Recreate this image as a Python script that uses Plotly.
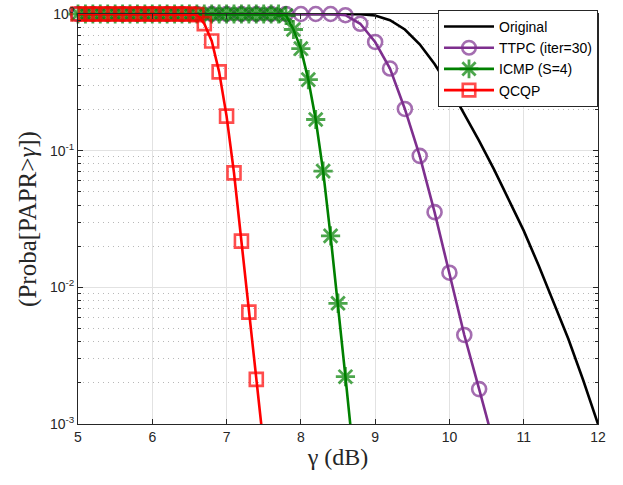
import plotly.graph_objects as go

# SNR threshold sweeps (dB)
gamma_qcqp = [5.0, 5.1, 5.2, 5.3, 5.4, 5.5, 5.6, 5.7, 5.8, 5.9, 6.0, 6.1, 6.2,
              6.3, 6.4, 6.5, 6.6, 6.7, 6.8, 6.9, 7.0, 7.1, 7.2, 7.3, 7.4, 7.5]
gamma_icmp = [5.0, 5.1, 5.2, 5.3, 5.4, 5.5, 5.6, 5.7, 5.8, 5.9, 6.0, 6.1, 6.2,
              6.3, 6.4, 6.5, 6.6, 6.7, 6.8, 6.9, 7.0, 7.1, 7.2, 7.3, 7.4, 7.5,
              7.6, 7.7, 7.8, 7.9, 8.0, 8.1, 8.2, 8.3, 8.4, 8.5, 8.6, 8.7]
gamma_ttpc = [5.0, 5.2, 5.4, 5.6, 5.8, 6.0, 6.2, 6.4, 6.6, 6.8, 7.0, 7.2, 7.4,
              7.6, 7.8, 8.0, 8.2, 8.4, 8.6, 8.8, 9.0, 9.2, 9.4, 9.6, 9.8, 10.0,
              10.2, 10.4, 10.6]
gamma_orig = [5.0, 5.2, 5.4, 5.6, 5.8, 6.0, 6.2, 6.4, 6.6, 6.8, 7.0, 7.2, 7.4,
              7.6, 7.8, 8.0, 8.2, 8.4, 8.6, 8.8, 9.0, 9.2, 9.4, 9.6, 9.8, 10.0,
              10.2, 10.4, 10.6, 10.8, 11.0, 11.2, 11.4, 11.6, 11.8, 12.0]

# CCDF of the PAPR, Pr[PAPR > gamma]
ccdf_qcqp = [1.0, 1.0, 1.0, 1.0, 1.0, 1.0, 1.0, 1.0, 1.0, 1.0, 1.0, 1.0, 1.0,
             1.0, 1.0, 1.0, 0.99, 0.85, 0.635, 0.377, 0.179, 0.0688, 0.0218,
             0.00659, 0.00212, 0.00068]
ccdf_icmp = [1.0, 1.0, 1.0, 1.0, 1.0, 1.0, 1.0, 1.0, 1.0, 1.0, 1.0, 1.0, 1.0,
             1.0, 1.0, 1.0, 1.0, 1.0, 1.0, 1.0, 1.0, 1.0, 1.0, 1.0, 1.0, 1.0,
             1.0, 1.0, 0.975, 0.77, 0.558, 0.331, 0.169, 0.0708, 0.0238,
             0.00764, 0.00222, 0.00065]
ccdf_ttpc = [1.0, 1.0, 1.0, 1.0, 1.0, 1.0, 1.0, 1.0, 1.0, 1.0, 1.0, 1.0, 1.0,
             1.0, 1.0, 1.0, 1.0, 1.0, 0.98, 0.848, 0.624, 0.399, 0.202, 0.0916,
             0.0355, 0.0128, 0.00448, 0.0018, 0.00071]
ccdf_orig = [1.0, 1.0, 1.0, 1.0, 1.0, 1.0, 1.0, 1.0, 1.0, 1.0, 1.0, 1.0, 1.0,
             1.0, 1.0, 1.0, 1.0, 1.0, 1.0, 0.995, 0.975, 0.90, 0.77, 0.60, 0.43,
             0.29, 0.185, 0.118, 0.073, 0.044, 0.026, 0.0145, 0.0078, 0.0042,
             0.0021, 0.0010]

Y_MIN = 1e-3
major_y = [1e-3, 1e-2, 1e-1, 1e0]
major_y_text = ["10<sup>-3</sup>", "10<sup>-2</sup>", "10<sup>-1</sup>", "10<sup>0</sup>"]
minor_y = [k * d for d in (1e-3, 1e-2, 1e-1) for k in range(2, 10)]

SANS = "Liberation Sans, Arial, sans-serif"
SERIF = "Liberation Serif, Times New Roman, serif"
AXIS_COLOR = "#262626"


def marker_sizes(values, size):
    # markers are only drawn for points inside the plotted probability range
    return [size if v >= Y_MIN else 0 for v in values]


fig = go.Figure()

fig.add_trace(go.Scatter(
    x=gamma_orig, y=ccdf_orig, name="Original", mode="lines",
    line=dict(color="black", width=2.6),
))
fig.add_trace(go.Scatter(
    x=gamma_ttpc, y=ccdf_ttpc, name="TTPC (iter=30)", mode="lines+markers",
    line=dict(color="#7E2F8E", width=2.6),
    marker=dict(symbol="circle-open", size=marker_sizes(ccdf_ttpc, 14),
                color="#7E2F8E", line=dict(width=2.6, color="#7E2F8E")),
    cliponaxis=False,
))
fig.add_trace(go.Scatter(
    x=gamma_icmp, y=ccdf_icmp, name="ICMP (S=4)", mode="lines+markers",
    line=dict(color="#008000", width=2.6),
    marker=dict(symbol="asterisk-open", size=marker_sizes(ccdf_icmp, 16),
                color="#008000", line=dict(width=2.8, color="#008000")),
    cliponaxis=False,
))
fig.add_trace(go.Scatter(
    x=gamma_qcqp, y=ccdf_qcqp, name="QCQP", mode="lines+markers",
    line=dict(color="#FF0000", width=2.6),
    marker=dict(symbol="square-open", size=marker_sizes(ccdf_qcqp, 13),
                color="#FF0000", line=dict(width=2.6, color="#FF0000")),
    cliponaxis=False,
))

fig.update_layout(
    template="none",
    width=623, height=485,
    margin=dict(l=77.5, r=24.5, t=13.5, b=61, autoexpand=False),
    paper_bgcolor="white", plot_bgcolor="white",
    font=dict(family=SANS, size=14, color=AXIS_COLOR),
    showlegend=True,
    legend=dict(
        x=1, xanchor="right", y=1.01, yanchor="top",
        bgcolor="white", bordercolor=AXIS_COLOR, borderwidth=1,
        font=dict(family=SANS, size=14, color="black"),
        itemwidth=50, tracegroupgap=0,
    ),
)

fig.update_xaxes(
    automargin=False,
    range=[5, 12], tick0=5, dtick=1,
    showgrid=True, gridcolor="#e2e2e2", gridwidth=1,
    ticks="inside", ticklen=5, tickcolor=AXIS_COLOR,
    showline=True, linecolor=AXIS_COLOR, linewidth=1, mirror="ticks",
    zeroline=False,
    tickfont=dict(family=SANS, size=14, color=AXIS_COLOR),
    title=dict(text="γ (dB)", font=dict(family=SERIF, size=24, color=AXIS_COLOR),
               standoff=4),
)

fig.update_yaxes(
    automargin=False,
    type="log", range=[-3, 0],
    tickmode="array", tickvals=major_y, ticktext=major_y_text,
    showgrid=True, gridcolor="#e2e2e2", gridwidth=1,
    ticks="inside", ticklen=5, tickcolor=AXIS_COLOR,
    minor=dict(tickmode="array", tickvals=minor_y, ticks="inside", ticklen=3,
               tickcolor=AXIS_COLOR, showgrid=True, gridcolor="#b8b8b8",
               griddash="1px,4px", gridwidth=1),
    showline=True, linecolor=AXIS_COLOR, linewidth=1, mirror="ticks",
    zeroline=False,
    tickfont=dict(family=SANS, size=14, color=AXIS_COLOR),
    title=dict(text="(Proba[PAPR&gt;<i>γ</i>])",
               font=dict(family=SERIF, size=25, color=AXIS_COLOR), standoff=6),
)

fig.write_html("out.html")
